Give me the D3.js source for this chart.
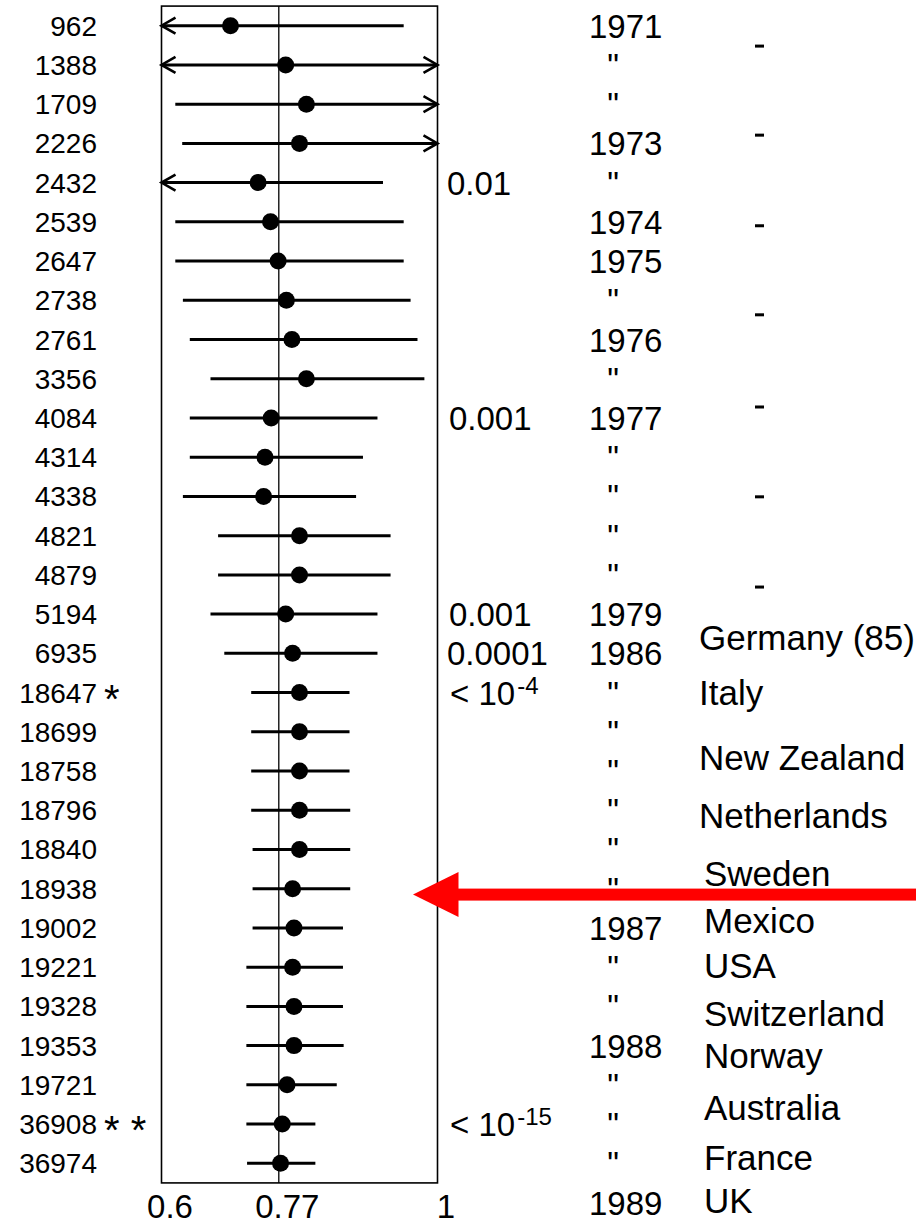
<!DOCTYPE html>
<html>
<head>
<meta charset="utf-8">
<script src="https://cdn.jsdelivr.net/npm/d3@7"></script>
<style>
  html, body { margin: 0; padding: 0; background: #fff; }
  svg { display: block; }
  text { font-family: "Liberation Sans", Arial, Helvetica, sans-serif; fill: #000; }
</style>
</head>
<body>
<svg id="chart" width="916" height="1227"></svg>
<script>
// Study sizes (row labels), top to bottom
const studies = ["962","1388","1709","2226","2432","2539","2647","2738","2761","3356",
  "4084","4314","4338","4821","4879","5194","6935","18647","18699","18758",
  "18796","18840","18938","19002","19221","19328","19353","19721","36908","36974"];
// Asterisk flags next to some labels
const flags = ["","","","","","","","","","","","","","","","","","*","","",
  "","","","","","","","","* *",""];
// Point estimates
const estimate = [0.70,0.78,0.81,0.80,0.74,0.758,0.769,0.781,0.789,0.81,
  0.759,0.75,0.748,0.80,0.80,0.78,0.79,0.80,0.80,0.80,
  0.80,0.80,0.79,0.792,0.79,0.792,0.792,0.782,0.775,0.7725];
// Interval bounds (values below 0.6 or above 1 run off the axis)
const lower = [0.50,0.50,0.62,0.63,0.50,0.62,0.62,0.631,0.641,0.671,
  0.641,0.641,0.631,0.682,0.682,0.671,0.691,0.730,0.730,0.730,
  0.730,0.732,0.732,0.732,0.723,0.723,0.723,0.723,0.723,0.724];
const upper = [0.951,1.10,1.10,1.10,0.921,0.951,0.951,0.961,0.971,0.981,
  0.913,0.892,0.882,0.932,0.932,0.913,0.913,0.8725,0.8725,0.8725,
  0.8735,0.8735,0.8735,0.863,0.863,0.863,0.864,0.854,0.823,0.823];
// Cumulative p-values, with the row they sit on
const pRows = [4, 10, 15, 16, 17, 28];
const pText = ["0.01", "0.001", "0.001", "0.0001", "< 10", "< 10"];
const pExp  = ["", "", "", "", "-4", "-15"];
// Year column; '"' repeats the year above. The last entry sits on the axis line.
const years = ["1971",'"','"',"1973",'"',"1974","1975",'"',"1976",'"',
  "1977",'"','"','"','"',"1979","1986",'"','"','"',
  '"','"','"',"1987",'"','"',"1988",'"','"','"',"1989"];
// Countries joining, with their (row-unit) vertical position
const countries = ["Germany (85)","Italy","New Zealand","Netherlands","Sweden","Mexico",
  "USA","Switzerland","Norway","Australia","France","UK"];
const countryRow = [15.6, 17.0, 18.66, 20.14, 21.6, 22.82, 23.97, 25.17, 26.26, 27.59, 28.86, 29.96];
// Small tick marks in the far right column
const tickRows = [0.52, 2.79, 5.1, 7.37, 9.72, 12.01, 14.31];
// Axis ticks and reference value
const xTicks = [0.6, 0.77, 1];
const refValue = 0.77;
const arrowRow = 22.15;

const svg = d3.select("#chart");

const x = d3.scaleLinear().domain([0.6, 1]).range([161.5, 437.5]);
const y = d3.scaleLinear().domain([0, studies.length - 1]).range([25.7, 1163.3]);
const half = (y(1) - y(0)) / 2;
const frameTop = y(0) - half, frameBottom = y(studies.length - 1) + half;

// Plot frame
svg.append("rect")
  .attr("x", x(0.6)).attr("y", frameTop)
  .attr("width", x(1) - x(0.6)).attr("height", frameBottom - frameTop)
  .attr("fill", "none").attr("stroke", "#000").attr("stroke-width", 1.6);

// Reference line
svg.append("line")
  .attr("x1", x(refValue)).attr("x2", x(refValue))
  .attr("y1", frameTop).attr("y2", frameBottom)
  .attr("stroke", "#000").attr("stroke-width", 1.3);

// Axis
const axis = svg.append("g")
  .attr("transform", `translate(0,${frameBottom})`)
  .call(d3.axisBottom(x).tickValues(xTicks).tickSize(0).tickFormat(d3.format("")));
axis.select(".domain").remove();
axis.selectAll("text")
  .attr("y", 35).attr("dy", 0).attr("dx", 8)
  .attr("font-size", 33).style("font-family", "'Liberation Sans', Arial, sans-serif");

const rows = studies.map((s, i) => ({ s, i, est: estimate[i], lo: lower[i], hi: upper[i], flag: flags[i] }));

// Intervals clipped to the frame
const g = svg.append("g");
g.selectAll("line.ci").data(rows).join("line")
  .attr("class", "ci")
  .attr("x1", d => x(Math.max(0.6, d.lo)))
  .attr("x2", d => x(Math.min(1, d.hi)))
  .attr("y1", d => y(d.i)).attr("y2", d => y(d.i))
  .attr("stroke", "#000").attr("stroke-width", 3);

// Open arrowheads where an interval leaves the axis range
const aw = 14, ah = 8;
g.selectAll("path.left").data(rows.filter(d => d.lo < 0.6)).join("path")
  .attr("class", "left")
  .attr("d", d => `M${x(0.6) + aw},${y(d.i) - ah}L${x(0.6)},${y(d.i)}L${x(0.6) + aw},${y(d.i) + ah}`)
  .attr("fill", "none").attr("stroke", "#000").attr("stroke-width", 2.6);
g.selectAll("path.right").data(rows.filter(d => d.hi > 1)).join("path")
  .attr("class", "right")
  .attr("d", d => `M${x(1) - aw},${y(d.i) - ah}L${x(1)},${y(d.i)}L${x(1) - aw},${y(d.i) + ah}`)
  .attr("fill", "none").attr("stroke", "#000").attr("stroke-width", 2.6);

// Point estimates
g.selectAll("circle").data(rows).join("circle")
  .attr("cx", d => x(d.est)).attr("cy", d => y(d.i)).attr("r", 8.5)
  .attr("fill", "#000");

// Row labels
svg.append("g").selectAll("text").data(rows).join("text")
  .attr("x", 97).attr("y", d => y(d.i) + 10)
  .attr("text-anchor", "end").attr("font-size", 28)
  .text(d => d.s);
svg.append("g").selectAll("text").data(rows.filter(d => d.flag)).join("text")
  .attr("x", 104).attr("y", d => y(d.i) + 20)
  .attr("font-size", 40)
  .text(d => d.flag);

// P-values
const pg = svg.append("g").selectAll("text").data(pRows.map((r, k) => ({ r, t: pText[k], e: pExp[k] })))
  .join("text")
  .attr("x", d => d.e ? 450 : (d.t === "0.01" || d.t === "0.0001" ? 447 : 449))
  .attr("y", d => y(d.r) + 12)
  .attr("font-size", 33);
pg.append("tspan").text(d => d.t);
pg.append("tspan").attr("dy", -11).attr("dx", 2).attr("font-size", 24).text(d => d.e);

// Years
svg.append("g").selectAll("text").data(years.map((t, i) => ({ t, i }))).join("text")
  .attr("x", d => d.t === '"' ? 613 : 589)
  .attr("y", d => y(d.i) + 12)
  .attr("text-anchor", d => d.t === '"' ? "middle" : "start")
  .attr("font-size", 33)
  .text(d => d.t);

// Countries
svg.append("g").selectAll("text").data(countries.map((t, k) => ({ t, r: countryRow[k] }))).join("text")
  .attr("x", (d, k) => k < 4 ? 699 : 704)
  .attr("y", d => y(d.r) + 12.5)
  .attr("font-size", 35)
  .text(d => d.t);

// Small marks on the far right
svg.append("g").selectAll("rect").data(tickRows).join("rect")
  .attr("x", 755).attr("y", d => y(d) - 1.5)
  .attr("width", 9).attr("height", 3).attr("fill", "#000");

// Red pointer
const ay = y(arrowRow);
svg.append("rect")
  .attr("x", 455).attr("y", ay - 6).attr("width", 916 - 455).attr("height", 12)
  .attr("fill", "#ff0000");
svg.append("path")
  .attr("d", `M413,${ay}L458.5,${ay - 22.5}L458.5,${ay + 22.5}Z`)
  .attr("fill", "#ff0000");
</script>
</body>
</html>
